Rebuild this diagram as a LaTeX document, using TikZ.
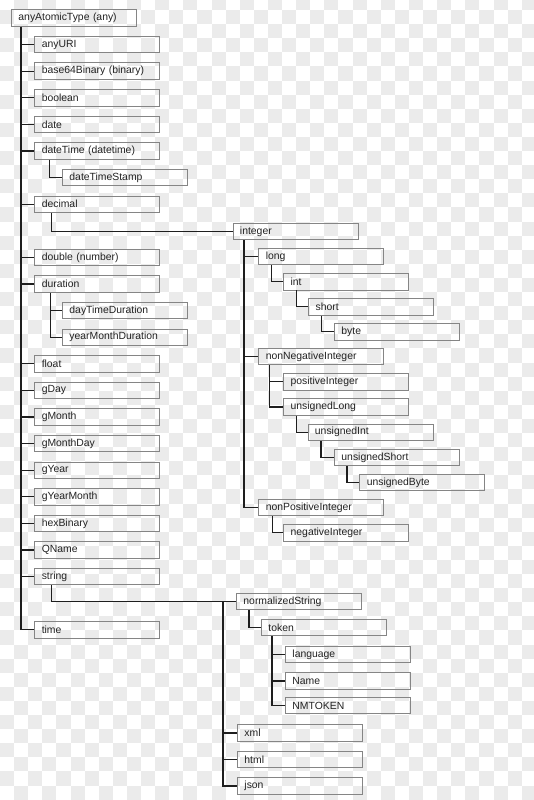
\documentclass[tikz,border=0pt]{standalone}
\usepackage{fontspec}
\setmainfont{Liberation Sans}
\definecolor{boxgray}{HTML}{858585}
\definecolor{linec}{HTML}{1E1E1E}
\definecolor{txt}{HTML}{222222}
\definecolor{chk}{HTML}{EBEBEB}
\begin{document}
\begin{tikzpicture}[x=1pt,y=-1pt,
  box/.style={draw=boxgray, line width=0.9pt, anchor=west, minimum height=16.5pt,
    text width=111pt, inner xsep=7pt, inner ysep=0pt, align=left,
    font=\fontsize{10.4}{12}\selectfont, text=txt},
  conn/.style={draw=linec, line width=1.1pt}]
\useasboundingbox (0,0) rectangle (534,800);
% background
\begin{scope}
\clip (0,0) rectangle (534,800);
\fill[white] (0,0) rectangle (534,800);
\foreach \i in {0,...,38}{
  \foreach \j in {0,...,58}{
    \pgfmathtruncatemacro{\chkpar}{mod(\i+\j,2)}
    \ifnum\chkpar=1 \fill[chk] ({\i*14.1},{\j*14.1-4.1}) rectangle ++(14.1,14.1);\fi
  }
}
\end{scope}
% root and first level
\node[box] (root) at (11,18) {anyAtomicType (any)};
\node[box] (anyURI) at (34.3,44.6) {anyURI};
\node[box] (base64) at (34.3,71.2) {base64Binary (binary)};
\node[box] (boolean) at (34.3,97.8) {boolean};
\node[box] (date) at (34.3,124.4) {date};
\node[box] (dateTime) at (34.3,151) {dateTime (datetime)};
\node[box] (dateTimeStamp) at (62,177.6) {dateTimeStamp};
\node[box] (decimal) at (34.3,204.2) {decimal};
\node[box] (double) at (34.3,257.4) {double (number)};
\node[box] (duration) at (34.3,284) {duration};
\node[box] (dayTimeDuration) at (62,310.6) {dayTimeDuration};
\node[box] (yearMonthDuration) at (62,337.2) {yearMonthDuration};
\node[box] (float) at (34.3,363.8) {float};
\node[box] (gDay) at (34.3,390.4) {gDay};
\node[box] (gMonth) at (34.3,417) {gMonth};
\node[box] (gMonthDay) at (34.3,443.6) {gMonthDay};
\node[box] (gYear) at (34.3,470.2) {gYear};
\node[box] (gYearMonth) at (34.3,496.8) {gYearMonth};
\node[box] (hexBinary) at (34.3,523.4) {hexBinary};
\node[box] (QName) at (34.3,550) {QName};
\node[box] (string) at (34.3,576.6) {string};
\node[box] (time) at (34.3,629.8) {time};
% integer subtree
\node[box] (integer) at (232.5,231.5) {integer};
\node[box] (long) at (258.3,256.6) {long};
\node[box] (int) at (283.2,281.7) {int};
\node[box] (short) at (308.2,306.8) {short};
\node[box] (byte) at (334,331.9) {byte};
\node[box] (nonNegativeInteger) at (258.3,356.5) {nonNegativeInteger};
\node[box] (positiveInteger) at (283.2,381.8) {positiveInteger};
\node[box] (unsignedLong) at (283.2,407) {unsignedLong};
\node[box] (unsignedInt) at (307.5,432.3) {unsignedInt};
\node[box] (unsignedShort) at (334,457.4) {unsignedShort};
\node[box] (unsignedByte) at (359.3,482.5) {unsignedByte};
\node[box] (nonPositiveInteger) at (258.3,507.6) {nonPositiveInteger};
\node[box] (negativeInteger) at (283.2,532.7) {negativeInteger};
% string subtree
\node[box] (normalizedString) at (236,601.5) {normalizedString};
\node[box] (token) at (261,627.5) {token};
\node[box] (language) at (285,654.5) {language};
\node[box] (Name) at (285,681) {Name};
\node[box] (NMTOKEN) at (285,705.5) {NMTOKEN};
\node[box] (xml) at (237,733) {xml};
\node[box] (html) at (237,759.5) {html};
\node[box] (json) at (237,786) {json};
% connectors
\coordinate (rt) at ([xshift=10pt]root.south west);
\draw[conn] (rt) |- (time.west);
\foreach \c in {anyURI,base64,boolean,date,dateTime,decimal,double,duration,float,gDay,gMonth,gMonthDay,gYear,gYearMonth,hexBinary,QName,string}
  \draw[conn] (rt |- \c.west) -- (\c.west);
\draw[conn] ([xshift=15pt]dateTime.south west) |- (dateTimeStamp.west);
\draw[conn] ([xshift=17pt]decimal.south west) |- (integer.west);
\coordinate (du) at ([xshift=16pt]duration.south west);
\draw[conn] (du) |- (yearMonthDuration.west);
\draw[conn] (du |- dayTimeDuration.west) -- (dayTimeDuration.west);
\coordinate (it) at ([xshift=11.5pt]integer.south west);
\draw[conn] (it) |- (nonPositiveInteger.west);
\foreach \c in {long,nonNegativeInteger}
  \draw[conn] (it |- \c.west) -- (\c.west);
\draw[conn] ([xshift=13pt]long.south west) |- (int.west);
\draw[conn] ([xshift=13pt]int.south west) |- (short.west);
\draw[conn] ([xshift=13pt]short.south west) |- (byte.west);
\coordinate (nn) at ([xshift=11pt]nonNegativeInteger.south west);
\draw[conn] (nn) |- (unsignedLong.west);
\draw[conn] (nn |- positiveInteger.west) -- (positiveInteger.west);
\draw[conn] ([xshift=13pt]unsignedLong.south west) |- (unsignedInt.west);
\draw[conn] ([xshift=13.5pt]unsignedInt.south west) |- (unsignedShort.west);
\draw[conn] ([xshift=13pt]unsignedShort.south west) |- (unsignedByte.west);
\draw[conn] ([xshift=14pt]nonPositiveInteger.south west) |- (negativeInteger.west);
\draw[conn] ([xshift=17pt]string.south west) |- (normalizedString.west);
\coordinate (sj) at ([xshift=-13pt]normalizedString.west);
\draw[conn] (sj) |- (json.west);
\foreach \c in {xml,html}
  \draw[conn] (sj |- \c.west) -- (\c.west);
\draw[conn] ([xshift=13pt]normalizedString.south west) |- (token.west);
\coordinate (tk) at ([xshift=11pt]token.south west);
\draw[conn] (tk) |- (NMTOKEN.west);
\foreach \c in {language,Name}
  \draw[conn] (tk |- \c.west) -- (\c.west);
\end{tikzpicture}
\end{document}
